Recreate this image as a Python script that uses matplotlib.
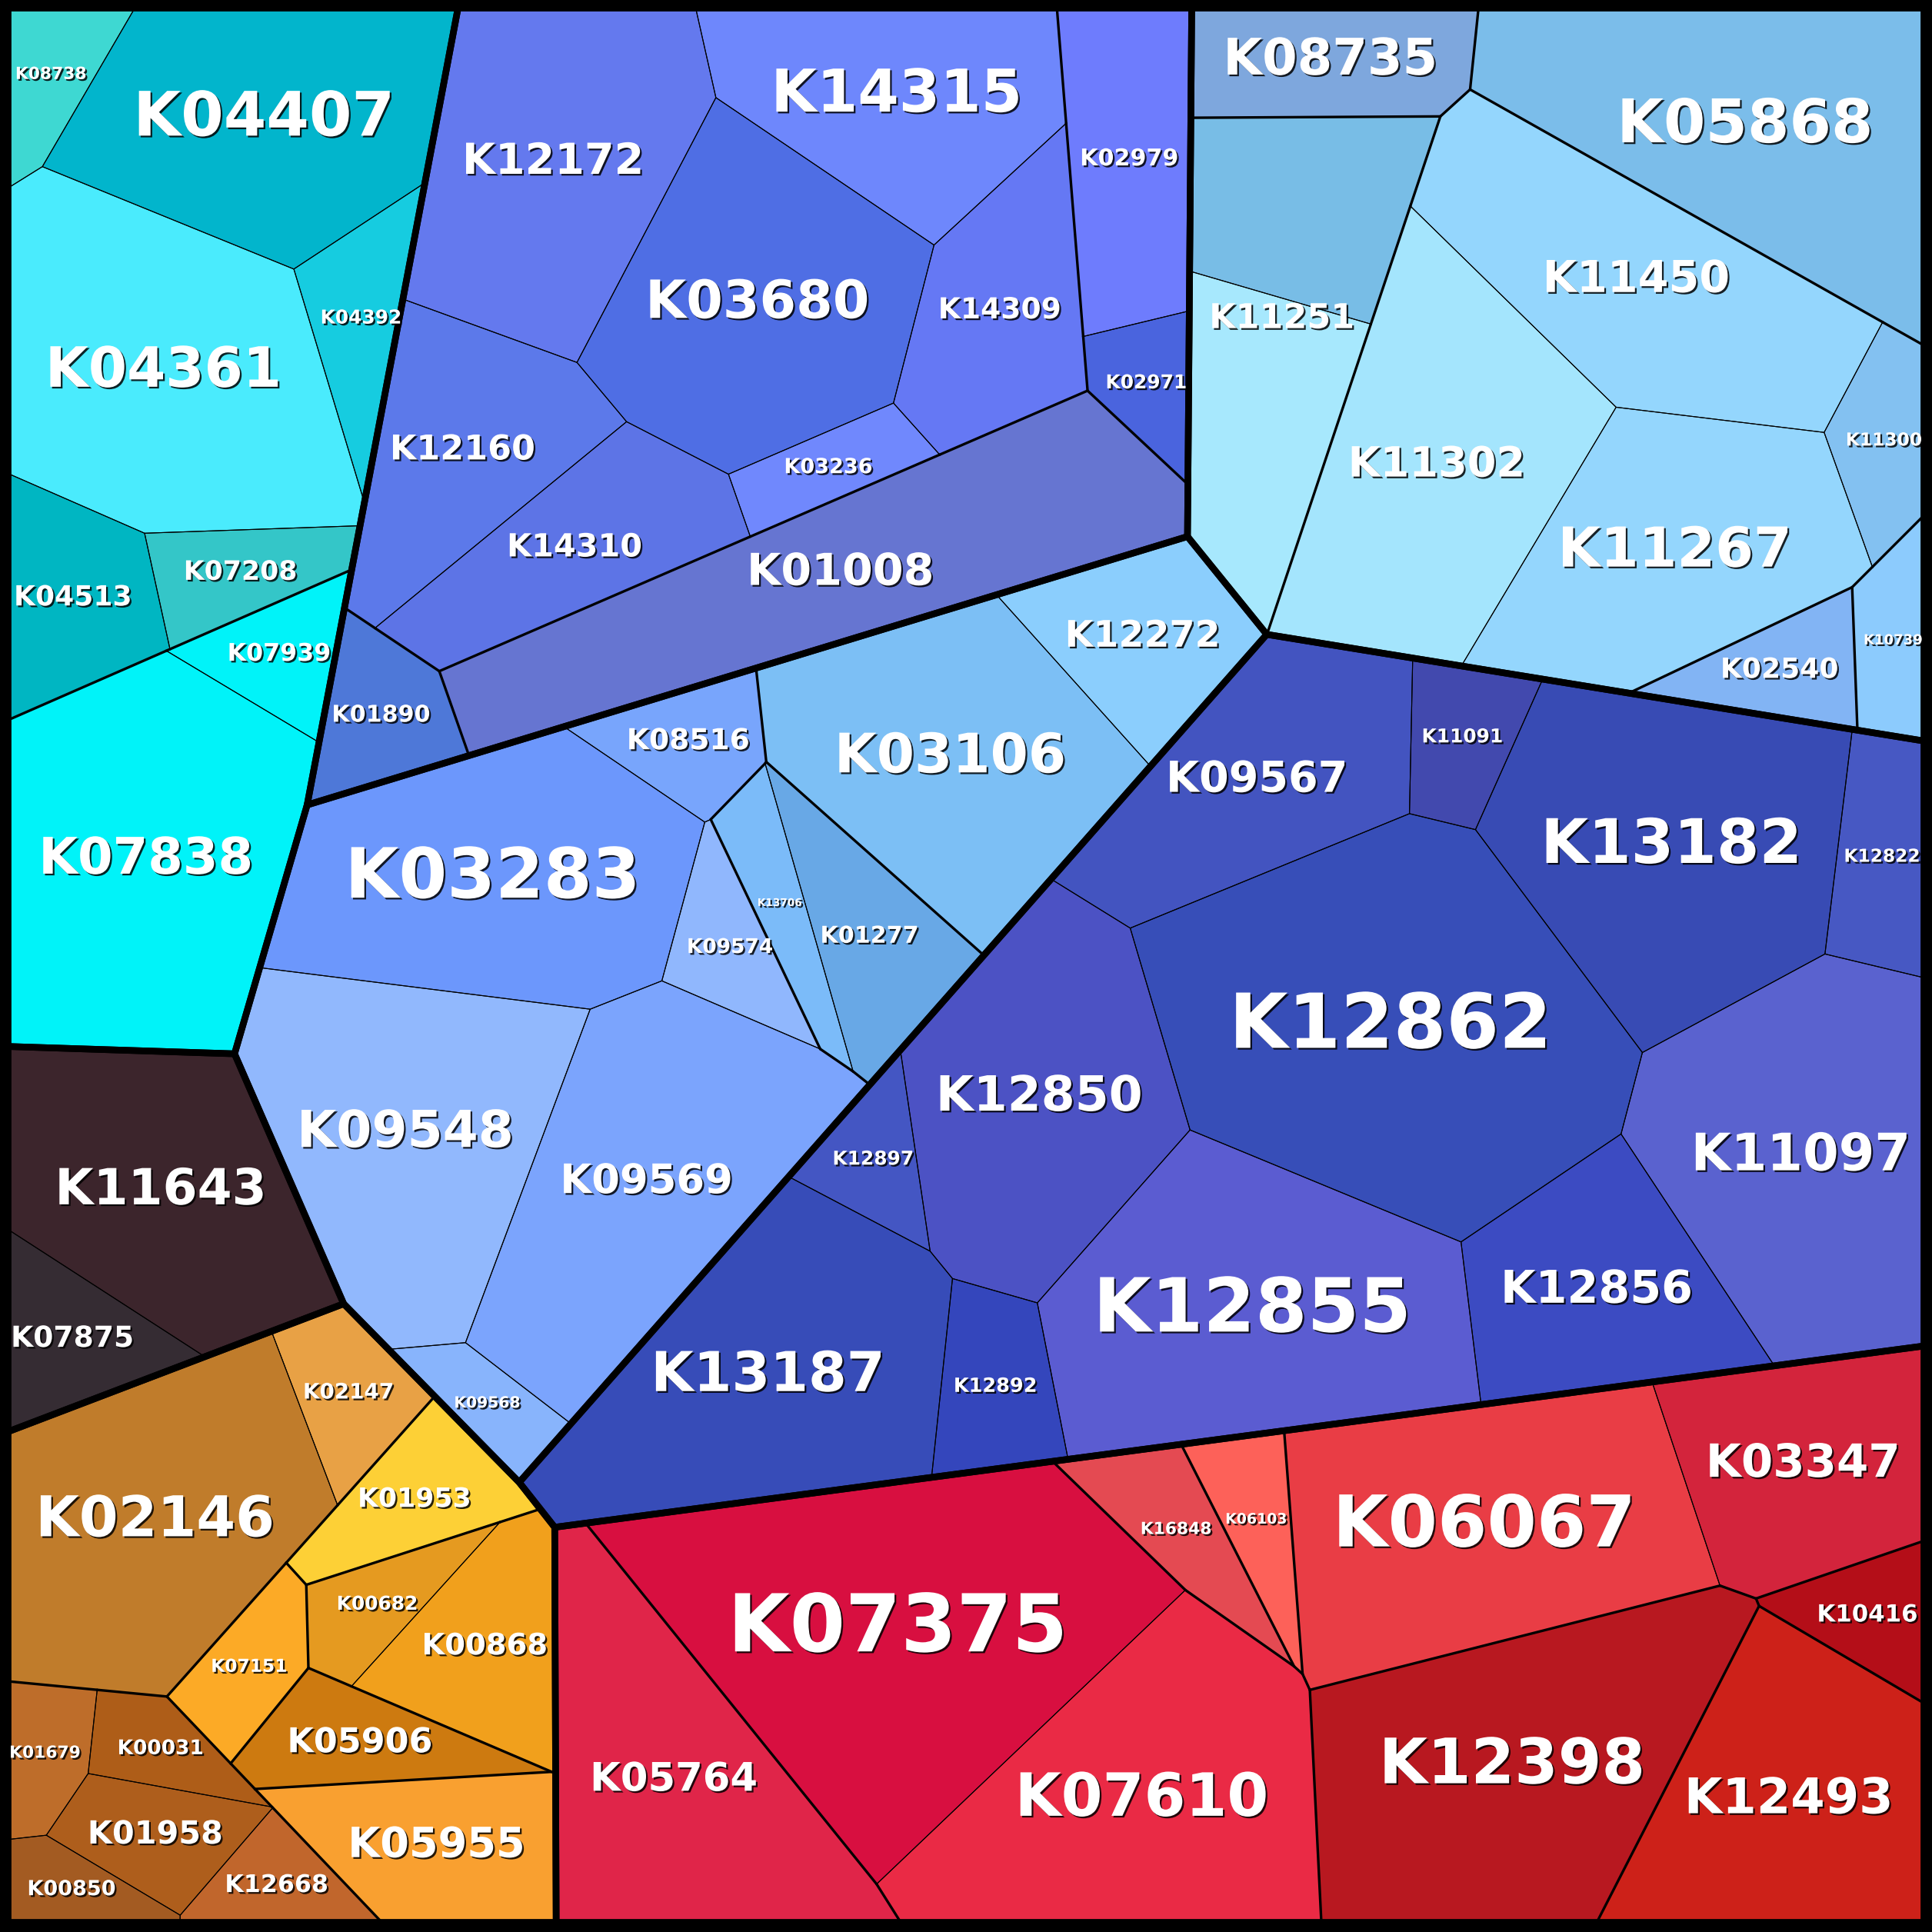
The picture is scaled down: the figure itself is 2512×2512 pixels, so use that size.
import numpy as np
import matplotlib
matplotlib.use("Agg")
import matplotlib.pyplot as plt
from matplotlib.patches import Polygon
from matplotlib.collections import LineCollection
import matplotlib.patheffects as pe

# ---------------- data: hierarchy and values ----------------
group_names = ['G1', 'G2', 'G3', 'G4', 'G5', 'G6', 'G7', 'G8']

leaves = {
 'G1': ['K08738', 'K04407', 'K04392', 'K04361', 'K07208', 'K04513', 'K07939', 'K07838'],
 'G2': ['K12172', 'K14315', 'K02979', 'K03680', 'K14309', 'K02971', 'K03236', 'K12160', 'K14310', 'K01890', 'K01008'],
 'G3': ['K08735', 'K05868', 'K11251', 'K11251b', 'K11450', 'K11300', 'K10739', 'K02540', 'K11267', 'K11302'],
 'G4': ['K03283', 'K08516', 'K03106', 'K12272', 'K13706', 'K01277', 'K09574', 'K09548', 'K09569', 'K09568'],
 'G5': ['K09567', 'K11091', 'K13182', 'K12822', 'K11097', 'K12862', 'K12856', 'K12855', 'K12850', 'K12897', 'K12892', 'K13187'],
 'G6': ['K07375', 'K05764', 'K07610', 'K16848', 'K06103', 'K06067', 'K03347', 'K10416', 'K12493', 'K12398'],
 'G7': ['K02147', 'K02146', 'K01953', 'K00682', 'K00868', 'K07151', 'K05906', 'K05955', 'K01679', 'K00031', 'K01958', 'K00850', 'K12668'],
 'G8': ['K11643', 'K07875'],
}

values = {
 'G1': [904, 5104, 1209, 6421, 1070, 1817, 967, 6606],
 'G2': [5173, 3948, 2531, 5354, 2592, 771, 837, 3121, 2691, 1192, 6423],
 'G3': [2033, 6335, 2621, 2736, 5249, 1085, 873, 1070, 4872, 5670],
 'G4': [5856, 1093, 5332, 2093, 881, 1802, 979, 5683, 5872, 708],
 'G5': [3923, 1031, 6225, 1342, 6128, 9344, 3364, 6600, 5227, 864, 1294, 5938],
 'G6': [8738, 5063, 6250, 1130, 867, 6215, 3377, 949, 4675, 6799],
 'G7': [1096, 5554, 1364, 858, 2004, 936, 1295, 2284, 757, 747, 1144, 666, 813],
 'G8': [4808, 1336],
}

# nesting inside each group (used by the layout)
tree = {
 'G1': [['K08738', 'K04407', 'K04392', 'K04361', 'K07208', 'K04513'], ['K07939', 'K07838']],
 'G2': [['K12172', 'K14315', 'K03680', 'K14309', 'K03236', 'K12160', 'K14310'], 'K01890', 'K01008', ['K02979', 'K02971']],
 'G3': ['K08735', 'K05868', ['K11251', 'K11251b'], ['K11450', 'K11300', 'K11267', 'K11302'], 'K10739', 'K02540'],
 'G4': ['K03283', 'K08516', 'K03106', 'K12272', 'K13706', 'K01277', 'K09574', 'K09548', 'K09569', 'K09568'],
 'G5': ['K09567', 'K11091', 'K13182', 'K12822', 'K11097', 'K12862', 'K12856', 'K12855', 'K12850', 'K12897', 'K12892', 'K13187'],
 'G6': ['K07375', 'K05764', 'K07610', 'K16848', 'K06103', 'K06067', 'K03347', 'K10416', 'K12493', 'K12398'],
 'G7': [['K02147', 'K02146'], ['K01953', ['K00682', 'K00868'], 'K07151', 'K05906', 'K05955'],
        ['K01679', 'K00031', 'K01958', 'K00850', 'K12668']],
 'G8': ['K11643', 'K07875'],
}

# clusters (boundaries between different clusters get a medium line)
clusters = {
 'G1': ['a', 'a', 'a', 'a', 'a', 'a', 'b', 'b'],
 'G2': ['z', 'z', 'y', 'z', 'z', 'y', 'z', 'z', 'z', 'x', 'w'],
 'G3': ['a', 'b', 'c', 'c', 'd', 'd', 'e', 'f', 'd', 'd'],
 'G4': ['s', 's', 't', 't', 'u', 'u', 's', 's', 's', 's'],
 'G5': ['a'] * 12,
 'G6': ['a', 'b', 'a', 'c', 'd', 'e', 'e', 'f', 'g', 'h'],
 'G7': ['a', 'a', 'b', 'c', 'c', 'd', 'e', 'f', 'g', 'g', 'g', 'g', 'g'],
 'G8': ['a', 'a'],
}

# ---------------- layout: generator sites of every node (image units, y down) ----------------
group_sites = {'G1': (122, 425), 'G2': (851, 563), 'G3': (976, 564), 'G4': (876, 645),
               'G5': (952, 712), 'G6': (1028, 1286), 'G7': (221, 1289), 'G8': (104, 982)}
node_sites = {
 'G1': [(71, 292), (222, 637)],
 'G1/0': [(39, 53), (214, 155), (266, 234), (170, 263), (177, 464), (72, 487)],
 'G1/1': [(221, 530), (119, 700)],
 'G2': [(565, 217), (318, 586), (671, 462), (927, 188)],
 'G2/0': [(478, 135), (673, 91), (600, 199), (826, 257), (681, 387), (391, 374), (464, 463)],
 'G2/3': [(903, 132), (945, 306)],
 'G3': [(1069, 64), (1437, 102), (1070, 249), (1309, 329), (1520, 540), (1411, 544)],
 'G3/2': [(1068, 167), (1016, 345)],
 'G3/3': [(1332, 242), (1545, 355), (1308, 440), (1201, 376)],
 'G4': [(417, 746), (501, 622), (813, 588), (911, 500), (641, 758), (669, 750), (576, 789), (395, 921), (502, 961), (409, 1082)],
 'G5': [(1042, 612), (1186, 615), (1336, 682), (1517, 704), (1465, 921), (1133, 834), (1276, 1046), (1033, 1076), (853, 917), (711, 938), (794, 1123), (623, 1105)],
 'G6': [(813, 1387), (622, 1541), (833, 1408), (939, 1257), (996, 1228), (1273, 1207), (1396, 1166), (1452, 1329), (1396, 1424), (1318, 1384)],
 'G7': [(163, 1220), (302, 1344), (136, 1502)],
 'G7/0': [(290, 1150), (119, 1215)],
 'G7/1': [(330, 1224), (364, 1329), (210, 1333), (323, 1425), (327, 1494)],
 'G7/1/1': [(320, 1290), (383, 1347)],
 'G7/2': [(57, 1422), (122, 1429), (116, 1462), (70, 1539), (210, 1543)],
 'G8': [(132, 969), (57, 1085)],
}

# ---------------- styles ----------------
colors = {
 'G1': ['#3ED8D2', '#02B5CC', '#16CCE0', '#4AEBFD', '#34C6C8', '#00B6C2', '#00F3F9', '#00F3F9'],
 'G2': ['#6479EE', '#6E87FC', '#6E7CFD', '#4F6EE4', '#6578F4', '#4A64DE', '#7088FD', '#5C79EA', '#5D74E6', '#4E78D8', '#6675D1'],
 'G3': ['#7EA7DD', '#7BBDEA', '#78BDE6', '#A7E8FD', '#94D6FD', '#83C1F1', '#8CCBFD', '#82B4F4', '#94D6FD', '#A4E5FD'],
 'G4': ['#6C97FC', '#78A5FC', '#7CBFF5', '#8BCEFD', '#7BBBF9', '#68A8E6', '#90B7FD', '#91B8FD', '#7BA4FD', '#88B4FC'],
 'G5': ['#4354C0', '#4249AE', '#384BB4', '#4758C3', '#5A62CF', '#374EB8', '#3C4BC2', '#5B5CD1', '#4C52C4', '#4456C3', '#3446BC', '#374CB8'],
 'G6': ['#D80F40', '#E02549', '#EA2A45', '#E44A52', '#FD6159', '#E93D45', '#D3243C', '#B40E18', '#CD2119', '#B81820'],
 'G7': ['#E8A145', '#C07C2B', '#FDD036', '#E59A20', '#F1A01C', '#FCAA26', '#CD7A10', '#F9A030', '#BE6D2A', '#AE5D18', '#AE5E1C', '#A35B22', '#C1662C'],
 'G8': ['#3C252C', '#352C33'],
}
font_sizes = {
 'G1': [15.7, 57.5, 17.9, 52, 25, 26, 22.8, 47.2],
 'G2': [40, 55.3, 21.7, 49.3, 27.1, 17.9, 19.5, 32, 29.8, 21.7, 41.2],
 'G3': [47.2, 56.4, 32, 0, 41.2, 16.8, 13, 26, 51.5, 39],
 'G4': [65, 27.1, 51, 34.2, 9.8, 21.7, 19, 47.7, 38, 14.6],
 'G5': [40, 17.9, 57.5, 16.8, 48.3, 71, 42.3, 70, 45.5, 17.9, 18.4, 51.5],
 'G6': [74.8, 36.9, 55.8, 15.7, 13.6, 66.7, 42.8, 22.2, 46, 58.6],
 'G7': [20, 52.6, 25, 17.9, 27.7, 16.8, 32, 39, 15.7, 19, 29.8, 19.5, 22.8],
 'G8': [46.6, 27.1],
}
LW_GROUP, LW_SUB, LW_LEAF = 6.2, 2.4, 0.8


# ---------------- power-diagram (weighted Voronoi) treemap ----------------
def parea(p):
    p = np.asarray(p, float)
    x = p[:, 0]; y = p[:, 1]
    return 0.5 * abs(np.dot(x, np.roll(y, -1)) - np.dot(y, np.roll(x, -1)))


def pcent(p):
    p = np.asarray(p, float)
    x = p[:, 0]; y = p[:, 1]; x1 = np.roll(x, -1); y1 = np.roll(y, -1)
    cr = x * y1 - x1 * y
    A = cr.sum() / 2
    return np.array([((x + x1) * cr).sum() / (6 * A), ((y + y1) * cr).sum() / (6 * A)])


def clip(poly, tags, a, b, newtag):
    out = []; ot = []
    n = len(poly)
    if n == 0:
        return out, ot
    vals = [a[0] * q[0] + a[1] * q[1] - b for q in poly]
    for k in range(n):
        Pp = poly[k]; Q = poly[(k + 1) % n]; fp = vals[k]; fq = vals[(k + 1) % n]; t = tags[k]
        if fp <= 0:
            out.append(Pp); ot.append(t)
            if fq > 0:
                r = fp / (fp - fq)
                out.append((Pp[0] + (Q[0] - Pp[0]) * r, Pp[1] + (Q[1] - Pp[1]) * r)); ot.append(newtag)
        elif fq <= 0:
            r = fp / (fp - fq)
            out.append((Pp[0] + (Q[0] - Pp[0]) * r, Pp[1] + (Q[1] - Pp[1]) * r)); ot.append(t)
    return out, ot


def power_cells(region, sites, w):
    n = len(sites); cells = []
    for i in range(n):
        poly = [tuple(q) for q in region]; tags = [-1] * len(poly)
        for j in range(n):
            if j == i:
                continue
            a = 2 * (sites[j] - sites[i])
            b = sites[j] @ sites[j] - sites[i] @ sites[i] - w[j] + w[i]
            poly, tags = clip(poly, tags, a, b, j)
            if not poly:
                break
        cells.append((poly, tags))
    return cells


def layout(region, sites, vals, iters=600):
    """Power diagram of `sites` in `region` whose cell areas match `vals`."""
    sites = np.asarray(sites, float)
    vals = np.asarray(vals, float)
    n = len(sites)
    if n == 1:
        return [[tuple(q) for q in region]]
    T = vals / vals.sum() * parea(region)
    w = np.zeros(n)
    d2 = ((sites[:, None, :] - sites[None, :, :]) ** 2).sum(-1)
    cells = None
    for it in range(iters):
        cells = power_cells(region, sites, w)
        A = np.array([parea(c) if len(c) >= 3 else 0.0 for c, t in cells])
        err = T - A
        if np.max(np.abs(err) / T) < 1e-4:
            break
        D = np.zeros(n)
        for i, (c, t) in enumerate(cells):
            m = len(c)
            for k in range(m):
                j = t[k]
                if j >= 0:
                    L = np.hypot(c[(k + 1) % m][0] - c[k][0], c[(k + 1) % m][1] - c[k][1])
                    D[i] += L / (2 * np.sqrt(d2[i, j]))
        neww = w.copy()
        for i in range(n):
            if A[i] <= 1e-9 or D[i] <= 1e-12:
                others = np.delete(w - d2[i], i)
                neww[i] = max(w[i] + 0.05 * np.mean(d2[i]), others.max() + 0.01 * np.mean(d2[i]))
            else:
                neww[i] = w[i] + 0.6 * err[i] / D[i]
        w = neww
    return [c for c, t in cells]


def shared(PA, PB, tol=0.8):
    """Common boundary pieces of two computed cells."""
    out = []
    na = len(PA); nb = len(PB)
    for i in range(na):
        a = np.asarray(PA[i], float); b = np.asarray(PA[(i + 1) % na], float)
        L = np.linalg.norm(b - a)
        if L < 1e-9:
            continue
        t = (b - a) / L
        for j in range(nb):
            c = np.asarray(PB[j], float); d = np.asarray(PB[(j + 1) % nb], float)
            ca = c - a; da = d - a
            if abs(t[0] * ca[1] - t[1] * ca[0]) < tol and abs(t[0] * da[1] - t[1] * da[0]) < tol:
                sc = t @ ca; sd = t @ da
                s0 = max(0.0, min(sc, sd)); s1 = min(L, max(sc, sd))
                if s1 - s0 > 0.5:
                    out.append([tuple(a + t * s0), tuple(a + t * s1)])
    return out


def leaves_of(node):
    return [node] if isinstance(node, str) else sum((leaves_of(c) for c in node), [])


value_of = {k: v for g in group_names for k, v in zip(leaves[g], values[g])}
leaf_poly = {}


def lay(node, path, region):
    if isinstance(node, str):
        leaf_poly[node] = np.array(region)
        return
    vals = [sum(value_of[k] for k in leaves_of(c)) for c in node]
    cells = layout(np.array(region), node_sites[path], vals)
    for i, c in enumerate(node):
        if len(cells[i]) >= 3:
            lay(c, path + '/' + str(i), cells[i])


square = np.array([[5, 5], [1563, 5], [1563, 1562], [5, 1562]], float)
gvals = [sum(values[g]) for g in group_names]
gcells = layout(square, [group_sites[g] for g in group_names], gvals)

fig = plt.figure(figsize=(25.12, 25.12), dpi=100)
fig.patch.set_facecolor('black')
ax = fig.add_axes([0, 0, 1, 1])
ax.set_facecolor('black')
ax.set_xlim(0, 1568); ax.set_ylim(1568, 0); ax.axis('off')

shadow = [pe.withSimplePatchShadow(offset=(1.6, -1.6), shadow_rgbFace='black', alpha=0.85)]
group_polys = []
for gi, g in enumerate(group_names):
    region = np.array(gcells[gi])
    group_polys.append(region)
    lay(tree[g], g, region)
    names = leaves[g]
    cl = clusters[g]
    thin = []; med = []
    for i, name in enumerate(names):
        if name not in leaf_poly:
            continue
        c = leaf_poly[name]
        ax.add_patch(Polygon(c, closed=True, fc=colors[g][i], ec=colors[g][i], lw=0.4, zorder=1))
        m = len(c)
        thin += [[tuple(c[k]), tuple(c[(k + 1) % m])] for k in range(m)]
    for i in range(len(names)):
        for j in range(i + 1, len(names)):
            if cl[i] != cl[j] and names[i] in leaf_poly and names[j] in leaf_poly:
                med += shared(leaf_poly[names[i]], leaf_poly[names[j]])
    ax.add_collection(LineCollection(thin, colors='black', linewidths=LW_LEAF, zorder=2))
    ax.add_collection(LineCollection(med, colors='black', linewidths=LW_SUB, zorder=3, capstyle='round'))
    # labels at cell centroids; an unlabeled sibling in the same cluster shares the label
    for i, name in enumerate(names):
        fs = font_sizes[g][i]
        if fs <= 0 or name not in leaf_poly:
            continue
        mates = [j for j in range(len(names)) if cl[j] == cl[i] and font_sizes[g][j] <= 0 and names[j] in leaf_poly]
        polys = [leaf_poly[names[j]] for j in [i] + mates]
        ar = np.array([parea(q) for q in polys])
        cc = sum(a * pcent(q) for a, q in zip(ar, polys)) / ar.sum()
        ax.text(cc[0], cc[1], name, ha='center', va='center', fontsize=fs, color='white',
                fontweight='bold', family='DejaVu Sans', path_effects=shadow, zorder=6)

for region in group_polys:
    ax.add_patch(Polygon(region, closed=True, fill=False, ec='black', lw=LW_GROUP, joinstyle='miter', zorder=4))
ax.add_patch(Polygon(square, closed=True, fill=False, ec='black', lw=LW_GROUP * 1.6, zorder=5))

fig.savefig('out.png', dpi=100, facecolor='black')
